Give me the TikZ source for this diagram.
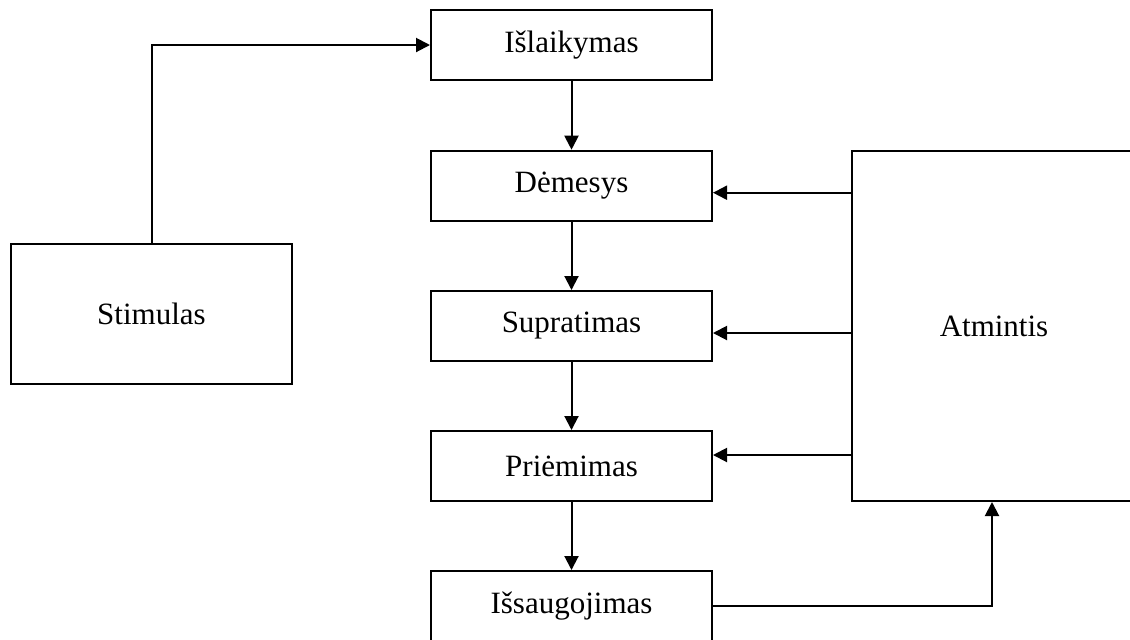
\documentclass[tikz,border=0pt]{standalone}
\usepackage{fontspec}
\setmainfont{Liberation Serif}
\usetikzlibrary{arrows.meta}

\begin{document}
\begin{tikzpicture}[x=0.5pt,y=-0.5pt,
	box/.style={draw,line width=1pt,minimum width=140.5pt,inner sep=0pt,
		font=\fontsize{15.5}{18}\selectfont},
	arr/.style={-{Triangle[length=7pt,width=7pt]},line width=1pt}]
\path[use as bounding box] (0,0) rectangle (1130,639);
\clip (0,0) rectangle (1130,639);
\node[box,minimum height=35pt] (isl) at (571.5,45) {Išlaikymas};
\node[box,minimum height=35pt] (dem) at (571.5,185.7) {Dėmesys};
\node[box,minimum height=35pt] (sup) at (571.5,326) {Supratimas};
\node[box,minimum height=35pt] (pri) at (571.5,466) {Priėmimas};
\node[box,minimum height=35pt] (iss) at (571.5,606) {Išsaugojimas}; % cut at the bottom
\node[box,minimum height=70pt] (stim) at (151.5,314) {Stimulas};
\node[box,minimum width=142pt,minimum height=175pt] (atm) at (994,326)
	{Atmintis}; % cut at the right
\draw[arr] (stim.north) |- (isl.west);
\draw[arr] (isl) -- (dem);
\draw[arr] (dem) -- (sup);
\draw[arr] (sup) -- (pri);
\draw[arr] (pri) -- (iss);
\draw[arr] ([yshift=-3.5pt]dem.east -| atm.west) -- ([yshift=-3.5pt]dem.east);
\draw[arr] ([yshift=-3.5pt]sup.east -| atm.west) -- ([yshift=-3.5pt]sup.east);
\draw[arr] ([yshift=5.5pt]pri.east -| atm.west) -- ([yshift=5.5pt]pri.east);
\draw[arr] (iss.east) -| ([xshift=-1pt]atm.south);
\end{tikzpicture}
\end{document}
